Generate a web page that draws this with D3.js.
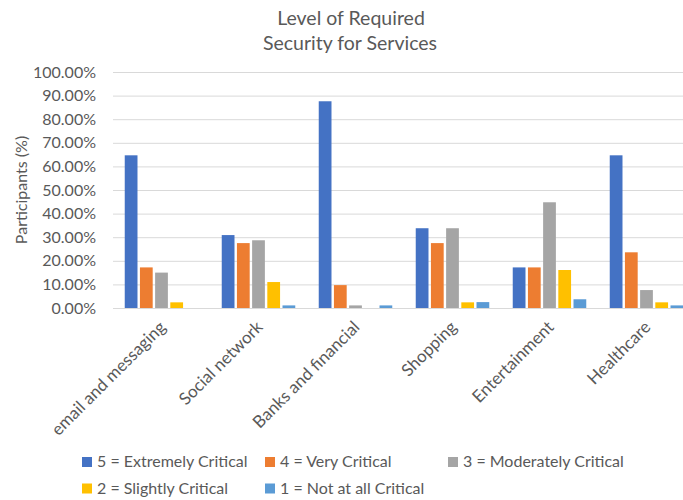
<!DOCTYPE html>
<html>
<head>
<meta charset="utf-8">
<script src="https://cdn.jsdelivr.net/npm/d3@7"></script>
<style>
  body { margin: 0; background: #fff; }
  svg text { font-family: Lato, "Open Sans", sans-serif; fill: #595959; }
</style>
</head>
<body>
<div id="chart"></div>
<script>
///////////////////////////////////////////////
// Data ///////////////////////////////////////
///////////////////////////////////////////////

var categories = ["email and messaging", "Social network", "Banks and financial",
                  "Shopping", "Entertainment", "Healthcare"];

var seriesNames = ["5 = Extremely Critical", "4 = Very Critical", "3 = Moderately Critical",
                   "2 = Slightly Critical", "1 = Not at all Critical"];

// percent of participants, one array per level, in category order
var extremely  = [64.7, 30.9, 87.6, 33.8, 17.2, 64.7];
var very       = [17.2, 27.5,  9.7, 27.5, 17.2, 23.6];
var moderately = [15.0, 28.7,  1.1, 33.8, 44.8,  7.6];
var slightly   = [ 2.4, 11.0,  0.0,  2.4, 16.1,  2.4];
var notAtAll   = [ 0.0,  1.1,  1.1,  2.5,  3.7,  1.1];

var yTicks = [0, 10, 20, 30, 40, 50, 60, 70, 80, 90, 100];

var color = ["#4472C4", "#ED7D31", "#A5A5A5", "#FFC000", "#5B9BD5"];

var series = [extremely, very, moderately, slightly, notAtAll];

///////////////////////////////////////////////
// Graph parameters ///////////////////////////
///////////////////////////////////////////////

var W = 683, H = 500;
var plot = { left: 113, right: 695, top: 72, bottom: 308 };

var svg = d3.select("#chart").append("svg")
    .attr("width", W)
    .attr("height", H);

///////////////////////////////////////////////
// Scales /////////////////////////////////////
///////////////////////////////////////////////

var x0 = d3.scaleBand()
    .domain(categories)
    .range([plot.left, plot.right])
    .paddingInner(0.242)
    .paddingOuter(0.121);

var x1 = d3.scaleBand()
    .domain(d3.range(series.length))
    .range([0, x0.bandwidth()])
    .paddingInner(0.16);

var y = d3.scaleLinear()
    .domain([0, 100])
    .range([plot.bottom, plot.top]);

///////////////////////////////////////////////
// Axes ///////////////////////////////////////
///////////////////////////////////////////////

var yAxis = d3.axisLeft(y)
    .tickValues(yTicks)
    .tickSize(-(plot.right - plot.left))
    .tickFormat(function(d) { return d3.format(".2f")(d) + "%"; });

svg.append("g")
    .attr("class", "axisY")
    .attr("transform", "translate(" + plot.left + ",0)")
    .call(yAxis)
    .call(function(g) {
      g.select(".domain").remove();
      g.selectAll(".tick line").attr("stroke", "#D9D9D9").attr("stroke-width", 1);
      g.selectAll(".tick text")
        .attr("x", -17)
        .style("font-size", "16px")
        .style("fill", "#595959")
        .style("font-family", "Lato, sans-serif");
    });

// category labels, rotated
svg.append("g")
    .attr("class", "axisX")
    .selectAll("text")
    .data(categories)
    .enter().append("text")
    .attr("transform", function(d) {
      return "translate(" + (x0(d) + x0.bandwidth() / 2 + 1) + "," + 324 + ") rotate(-45)";
    })
    .attr("text-anchor", "end")
    .attr("dy", "0.35em")
    .style("font-size", "17px")
    .text(function(d) { return d; });

// axis title
svg.append("text")
    .attr("transform", "translate(27," + ((plot.top + plot.bottom) / 2) + ") rotate(-90)")
    .attr("text-anchor", "middle")
    .style("font-size", "16px")
    .text("Participants (%)");

///////////////////////////////////////////////
// Bars ///////////////////////////////////////
///////////////////////////////////////////////

var groups = svg.append("g")
    .selectAll("g")
    .data(categories)
    .enter().append("g")
    .attr("transform", function(d) { return "translate(" + x0(d) + ",0)"; });

groups.selectAll("rect")
    .data(function(d, i) { return series.map(function(s, k) { return { k: k, v: s[i] }; }); })
    .enter().append("rect")
    .filter(function(d) { return d.v > 0; })
    .attr("x", function(d) { return x1(d.k); })
    .attr("y", function(d) { return y(d.v); })
    .attr("width", x1.bandwidth())
    .attr("height", function(d) { return y(0) - y(d.v); })
    .attr("fill", function(d) { return color[d.k]; });

///////////////////////////////////////////////
// Title //////////////////////////////////////
///////////////////////////////////////////////

var title = svg.append("text")
    .attr("text-anchor", "middle")
    .style("font-size", "19.5px");
title.append("tspan").attr("x", 351).attr("y", 25).text("Level of Required");
title.append("tspan").attr("x", 350).attr("y", 50).text("Security for Services");

///////////////////////////////////////////////
// Legend /////////////////////////////////////
///////////////////////////////////////////////

var legend = svg.append("g")
    .attr("class", "legend")
    .selectAll("g")
    .data(seriesNames)
    .enter().append("g")
    .attr("transform", function(d, i) {
      return "translate(" + (82 + (i % 3) * 183) + "," + (457 + Math.floor(i / 3) * 26.5) + ")";
    });

legend.append("rect")
    .attr("width", 10)
    .attr("height", 10)
    .attr("fill", function(d, i) { return color[i]; });

legend.append("text")
    .attr("x", 15)
    .attr("y", 10)
    .style("font-size", "16px")
    .text(function(d) { return d; });
</script>
</body>
</html>
